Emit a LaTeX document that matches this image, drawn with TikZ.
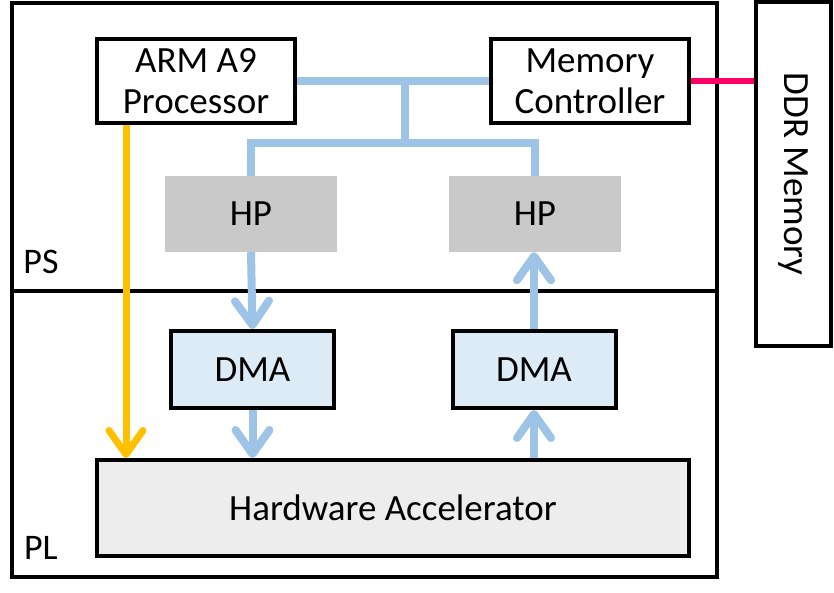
\documentclass[tikz,border=0pt]{standalone}
\usepackage{fontspec}
\setmainfont{Carlito}
\usetikzlibrary{arrows.meta}
\definecolor{busblue}{HTML}{9DC3E6}
\definecolor{dmablue}{HTML}{DDEBF7}
\definecolor{hpgray}{HTML}{C9C9C9}
\definecolor{accgray}{HTML}{EDEDED}
\definecolor{armorange}{HTML}{FFC000}
\definecolor{ddrpink}{HTML}{FF0066}
\begin{document}
\begin{tikzpicture}[x=1pt,y=-1pt,
    blk/.style={draw,line width=4pt,inner sep=0pt,align=center,
        font=\fontsize{37}{41}\selectfont},
    hpport/.style={fill=hpgray,inner sep=0pt,minimum width=172pt,minimum height=76pt,
        font=\fontsize{37}{41}\selectfont},
    bus/.style={busblue,line width=8pt},
    busarrow/.style={busblue,line width=8pt,-{Straight Barb[length=24pt,width=34pt,round]}},
    regionlbl/.style={inner sep=0pt,font=\fontsize{36}{40}\selectfont}]
\useasboundingbox (0,0) rectangle (834,593);
% PS / PL frame
\draw[line width=4pt] (12,3) rectangle (717,577);
\draw[line width=4pt] (12,291) -- (717,291);
\node[regionlbl] (ps) at (41,262) {PS};
\node[regionlbl] (pl) at (41,548) {PL};
% blocks
\node[blk,fill=white,minimum width=198pt,minimum height=84pt] (arm) at (196,81) {ARM A9\\Processor};
\node[blk,fill=white,minimum width=198pt,minimum height=84pt] (mc) at (590,81) {Memory\\Controller};
\node[blk,fill=white,minimum width=75pt,minimum height=344pt] (ddr) at (793.5,174) {\rotatebox{-90}{DDR Memory}};
\node[hpport] (hp1) at (251,214) {HP};
\node[hpport] (hp2) at (535,214) {HP};
\node[blk,fill=dmablue,minimum width=163pt,minimum height=77pt] (dma1) at (252.5,369.5) {DMA};
\node[blk,fill=dmablue,minimum width=163pt,minimum height=77pt] (dma2) at (534,369.5) {DMA};
\node[blk,fill=accgray,minimum width=592pt,minimum height=96pt] (acc) at (393,508) {Hardware Accelerator};
% interconnect
\coordinate (tap) at (405,81);
\coordinate (split) at (405,143);
\draw[bus] (arm.east) -- (mc.west);
\draw[bus] (tap) -- (split);
\draw[bus] (hp1.north) |- (split) -| (hp2.north);
\draw[ddrpink,line width=6pt] (mc.east) -- (mc.east -| ddr.west);
\draw[busarrow] (hp1.south) -- (dma1.north);
\draw[busarrow] (dma1.south) -- (dma1.south |- acc.north);
\draw[busarrow] (dma2.north) -- (dma2.north |- hp2.south);
\draw[busarrow] (dma2.south |- acc.north) -- (dma2.south);
\draw[armorange,line width=7pt,-{Straight Barb[length=24pt,width=34pt,round]}]
    (arm.south -| 126,0) -- (acc.north -| 126,0);
\end{tikzpicture}
\end{document}
